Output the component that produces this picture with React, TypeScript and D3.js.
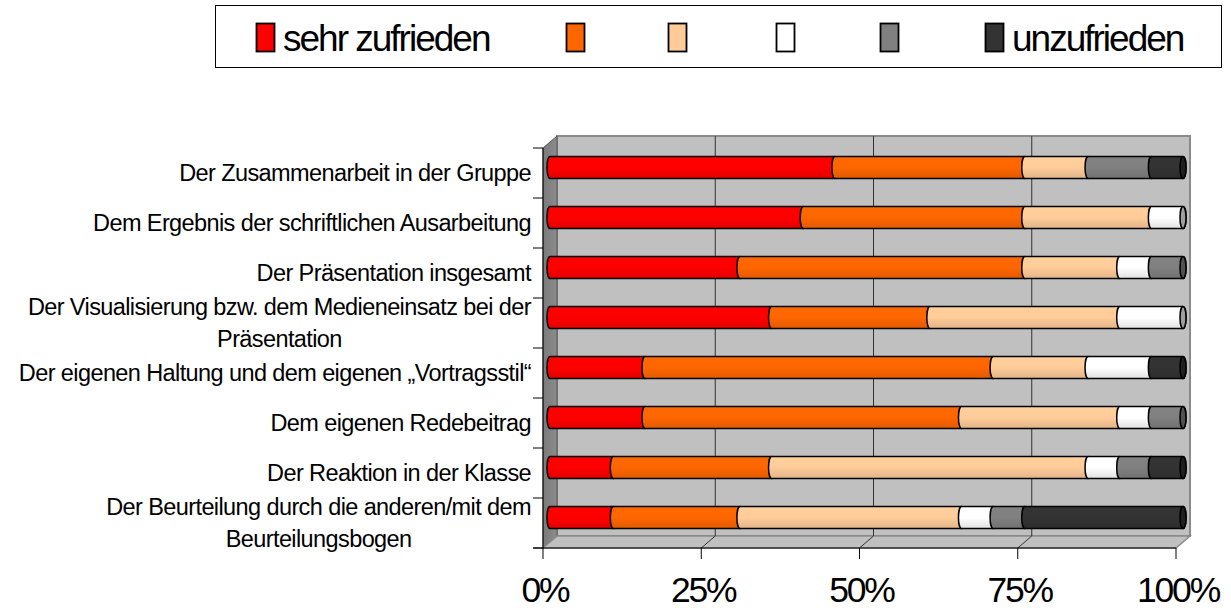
import React from 'react';
import * as d3 from 'd3';

// ---------- data ----------
const categories: string[][] = [
  ['Der Zusammenarbeit in der Gruppe'],
  ['Dem Ergebnis der schriftlichen Ausarbeitung'],
  ['Der Präsentation insgesamt'],
  ['Der Visualisierung bzw. dem Medieneinsatz bei der', 'Präsentation'],
  ['Der eigenen Haltung und dem eigenen „Vortragsstil“'],
  ['Dem eigenen Redebeitrag'],
  ['Der Reaktion in der Klasse'],
  ['Der Beurteilung durch die anderen/mit dem', 'Beurteilungsbogen'],
];
const seriesKeys = ['s1', 's2', 's3', 's4', 's5', 's6'];
const seriesLabels = ['sehr zufrieden', '', '', '', '', 'unzufrieden'];
const seriesColors = ['#FF0000', '#FF6600', '#FFCC99', '#FFFFFF', '#808080', '#333333'];
const s1 = [45, 40, 30, 35, 15, 15, 10, 10];
const s2 = [30, 35, 45, 25, 55, 50, 25, 20];
const s3 = [10, 20, 15, 30, 15, 25, 50, 35];
const s4 = [0, 5, 5, 10, 10, 5, 5, 5];
const s5 = [10, 0, 5, 0, 0, 5, 5, 5];
const s6 = [5, 0, 0, 0, 5, 0, 5, 25];
const xTicks = [0, 25, 50, 75, 100];
const xTickLabels = ['0%', '25%', '50%', '75%', '100%'];

// ---------- layout ----------
const W = 1231, H = 610;
const FX0 = 543, FX1 = 1176;       // front plane x range
const PY0 = 148, PY1 = 548;        // front plane y range
const DX = 14, DY = -12;           // depth offset
const BAR_RY = 11, CAP_RX = 3;
const LABEL_FONT = 23.5;
const LABEL_LS = -0.6;
const FONT = "'Liberation Sans', Arial, sans-serif";
const legendX = [256, 566, 668, 776, 880, 985];

function measure(text: string, size: number, ls: number): number {
  const c = document.createElement('canvas').getContext('2d');
  if (!c) return text.length * size * 0.5;
  c.font = `${size}px ${FONT}`;
  return c.measureText(text).width + ls * text.length;
}

export default function App() {
  const table = categories.map((_, i) => ({
    s1: s1[i], s2: s2[i], s3: s3[i], s4: s4[i], s5: s5[i], s6: s6[i],
  }));
  const stacked = d3.stack<any>().keys(seriesKeys)(table);

  const xFront = d3.scaleLinear().domain([0, 100]).range([FX0, FX1]);
  const xBar = d3.scaleLinear().domain([0, 100]).range([FX0 + DX / 2, FX1 + DX / 2]);
  const y = d3.scaleBand<number>().domain(d3.range(categories.length)).range([PY0, PY1]);
  const bw = y.bandwidth();
  const barCy = (i: number) => (y(i) as number) + bw / 2 + DY / 2 + 0.5;

  const segPath = (x0: number, x1: number, cy: number) => {
    const t = cy - BAR_RY, b = cy + BAR_RY;
    return `M${x0},${t}L${x1},${t}A${CAP_RX},${BAR_RY} 0 0 1 ${x1},${b}L${x0},${b}A${CAP_RX},${BAR_RY} 0 0 1 ${x0},${t}Z`;
  };

  const lastSeries = categories.map((_, i) => {
    let last = 0;
    seriesKeys.forEach((k, s) => { if ((table[i] as any)[k] > 0) last = s; });
    return last;
  });

  const gridVals = xTicks.slice(1, -1);

  return (
    <div style={{ position: 'absolute', left: 0, top: 0 }}>
      <svg width={W} height={H} style={{ display: 'block', background: '#fff' }} fontFamily={FONT}>
        <defs>
          {seriesColors.map((c, s) => {
            const top = d3.color(c)!.brighter(0.05).formatHex();
            const bot = d3.color(c)!.darker(0.35).formatHex();
            return (
              <linearGradient key={s} id={`g${s}`} x1="0" y1="0" x2="0" y2="1">
                <stop offset="0" stopColor={top} />
                <stop offset="0.5" stopColor={c} />
                <stop offset="1" stopColor={bot} />
              </linearGradient>
            );
          })}
          <linearGradient id="wall" x1="0" y1="0" x2="1" y2="0">
            <stop offset="0" stopColor="#7a7a7a" />
            <stop offset="1" stopColor="#8c8c8c" />
          </linearGradient>
        </defs>

        {/* legend */}
        <rect x={215.5} y={5.5} width={1006} height={62} fill="#fff" stroke="#000" strokeWidth={1} />
        {seriesColors.map((c, s) => (
          <g key={s}>
            <rect x={legendX[s] + 0.5} y={23.5} width={18} height={28} fill={c} stroke="#000" strokeWidth={1.8} />
            {seriesLabels[s] && (
              <text x={legendX[s] + 27} y={51} fontSize={37} letterSpacing={-2} fill="#000">{seriesLabels[s]}</text>
            )}
          </g>
        ))}

        {/* back wall */}
        <rect x={FX0 + DX} y={PY0 + DY} width={FX1 - FX0} height={PY1 - PY0} fill="#C0C0C0" stroke="#8a8a8a" strokeWidth={2} />
        {/* side wall */}
        <path d={`M${FX0},${PY0}L${FX0 + DX},${PY0 + DY}L${FX0 + DX},${PY1 + DY}L${FX0},${PY1}Z`} fill="url(#wall)" stroke="#555" strokeWidth={1} />
        {/* floor */}
        <path d={`M${FX0},${PY1}L${FX0 + DX},${PY1 + DY}L${FX1 + DX},${PY1 + DY}L${FX1},${PY1}Z`} fill="#C0C0C0" stroke="#8a8a8a" strokeWidth={1.5} />
        {/* gridlines */}
        {gridVals.map(v => (
          <g key={v}>
            <line x1={xFront(v) + DX} x2={xFront(v) + DX} y1={PY0 + DY} y2={PY1 + DY} stroke="#333" strokeWidth={1} />
            <line x1={xFront(v)} x2={xFront(v) + DX} y1={PY1} y2={PY1 + DY} stroke="#333" strokeWidth={1} />
          </g>
        ))}

        {/* bars */}
        {categories.map((_, i) => (
          <g key={i}>
            {stacked.map((ser, s) => {
              const [a, b] = ser[i];
              if (b - a <= 0) return null;
              return (
                <path key={s} d={segPath(xBar(a), xBar(b), barCy(i))} fill={`url(#g${s})`} stroke="#000" strokeWidth={1.5} />
              );
            })}
            <ellipse cx={xBar(100)} cy={barCy(i)} rx={CAP_RX} ry={BAR_RY}
              fill={d3.color(seriesColors[lastSeries[i]])!.darker(1.3).formatHex()} stroke="#000" strokeWidth={1.5} />
          </g>
        ))}

        {/* category axis */}
        <line x1={FX0} x2={FX0} y1={PY0} y2={PY1} stroke="#000" strokeWidth={1} />
        {d3.range(categories.length + 1).map(k => (
          <line key={k} x1={FX0 - 10} x2={FX0} y1={PY0 + k * bw} y2={PY0 + k * bw} stroke="#000" strokeWidth={1} />
        ))}
        {/* value axis */}
        <line x1={FX0 - 10} x2={FX1} y1={PY1} y2={PY1} stroke="#000" strokeWidth={1} />
        {xTicks.map(v => (
          <line key={v} x1={xFront(v)} x2={xFront(v)} y1={PY1} y2={PY1 + 11} stroke="#000" strokeWidth={1} />
        ))}
        {xTicks.map((v, k) => (
          <text key={v} x={xFront(v) + 2} y={602} fontSize={35.5} letterSpacing={-2.2} textAnchor="middle" fill="#000">{xTickLabels[k]}</text>
        ))}

        {/* category labels */}
        {categories.map((lines, i) => {
          const cy = (y(i) as number) + bw / 2;
          const widths = lines.map(l => measure(l, LABEL_FONT, LABEL_LS));
          const maxW = Math.max(...widths);
          const right = 531;
          const cx = right - maxW / 2;
          const n = lines.length;
          return lines.map((l, k) => (
            <text key={`${i}-${k}`} x={n === 1 ? right : cx} y={cy + 8 + (k - (n - 1) / 2) * 32}
              textAnchor={n === 1 ? 'end' : 'middle'} fontSize={LABEL_FONT} letterSpacing={LABEL_LS} fill="#000">{l}</text>
          ));
        })}
      </svg>
    </div>
  );
}
